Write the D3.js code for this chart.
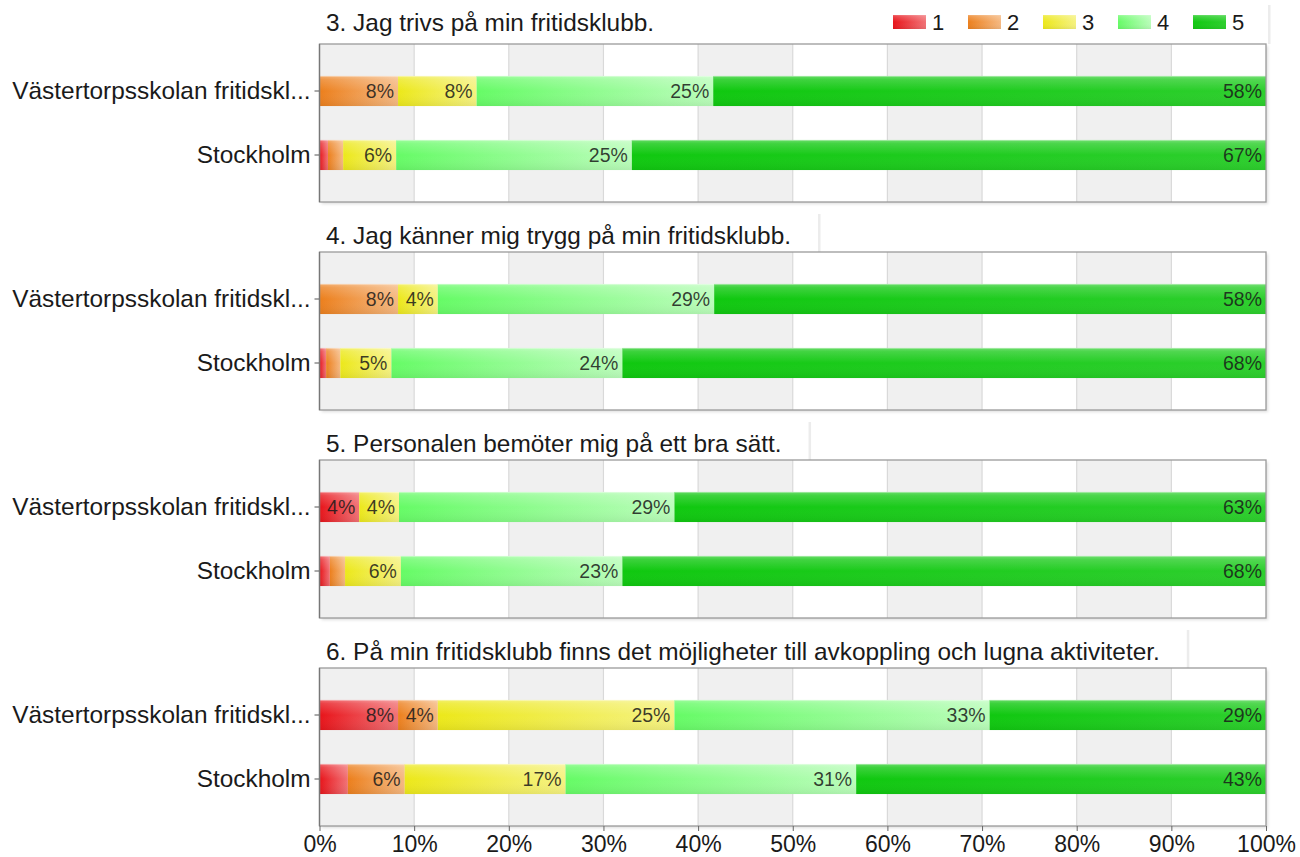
<!DOCTYPE html>
<html>
<head>
<meta charset="utf-8">
<script src="https://cdn.jsdelivr.net/npm/d3@7"></script>
<style>
html,body{margin:0;padding:0;background:#fff;}
svg{display:block;font-family:"Liberation Sans",Arial,sans-serif;}
</style>
</head>
<body>
<svg id="chart" width="1300" height="857"></svg>
<script>
// ---------- data ----------
const categories = ["Västertorpsskolan fritidskl...", "Stockholm"];
const questions = [
  "3. Jag trivs på min fritidsklubb.",
  "4. Jag känner mig trygg på min fritidsklubb.",
  "5. Personalen bemöter mig på ett bra sätt.",
  "6. På min fritidsklubb finns det möjligheter till avkoppling och lugna aktiviteter."
];
const levels = ["1", "2", "3", "4", "5"];
const levelColors = ["#e8141a", "#ec7f1c", "#ece81a", "#66fb66", "#10c810"];
const levelLighten = [0.4, 0.45, 0.45, 0.55, 0.12];
// percentages per question: [Västertorp, Stockholm], each [1,2,3,4,5]
const q3Values = [[0, 8.3, 8.3, 25.0, 58.4], [0.9, 1.6, 5.6, 24.9, 67.0]];
const q4Values = [[0, 8.3, 4.2, 29.2, 58.3], [0.7, 1.5, 5.4, 24.4, 68.0]];
const q5Values = [[4.2, 0, 4.2, 29.1, 62.5], [1.1, 1.6, 5.9, 23.4, 68.0]];
const q6Values = [[8.3, 4.2, 25.0, 33.3, 29.2], [3.0, 6.0, 17.0, 30.7, 43.3]];
const questionValues = [q3Values, q4Values, q5Values, q6Values];
const xTicks = [0, 10, 20, 30, 40, 50, 60, 70, 80, 90, 100];

// ---------- layout ----------
const svg = d3.select("#chart");
const left = 319.5, right = 1266;
const panelH = 158, panelStep = 208, firstTop = 44;
const x = d3.scaleLinear().domain([0, 100]).range([left, right]);

const defs = svg.append("defs");
const sh = defs.append("filter").attr("id", "shadow").attr("x", "-5%").attr("y", "-5%").attr("width", "110%").attr("height", "115%");
sh.append("feDropShadow").attr("dx", 2).attr("dy", 2).attr("stdDeviation", 1.5)
  .attr("flood-color", "#000").attr("flood-opacity", 0.13);

levelColors.forEach((c, i) => {
  const g = defs.append("linearGradient").attr("id", "grad" + i)
    .attr("x1", 0).attr("x2", 1).attr("y1", 0).attr("y2", 0);
  g.append("stop").attr("offset", "0%").attr("stop-color", c);
  g.append("stop").attr("offset", "100%").attr("stop-color", d3.interpolateRgb(c, "#fff")(levelLighten[i]));
});
const gv = defs.append("linearGradient").attr("id", "gloss").attr("x1", 0).attr("x2", 0).attr("y1", 0).attr("y2", 1);
gv.append("stop").attr("offset", "0%").attr("stop-color", "#fff").attr("stop-opacity", 0.35);
gv.append("stop").attr("offset", "12%").attr("stop-color", "#fff").attr("stop-opacity", 0.18);
gv.append("stop").attr("offset", "50%").attr("stop-color", "#fff").attr("stop-opacity", 0.0);
gv.append("stop").attr("offset", "100%").attr("stop-color", "#000").attr("stop-opacity", 0.06);

questions.forEach((q, qi) => {
  const top = firstTop + qi * panelStep;
  const bottom = top + panelH;
  const g = svg.append("g");
  const y = d3.scaleBand().domain(categories).range([top + 15, top + 143]).paddingInner(0.53).paddingOuter(0.265);

  // title box with right shadow
  const titleText = g.append("text").attr("x", 326).attr("y", qi === 0 ? 31 : top - 8)
    .attr("font-size", 24.4).attr("fill", "#1a1a1a").text(q);
  let boxRight, boxTop;
  if (qi === 0) { boxRight = 1268; boxTop = 5; }
  else { boxRight = 326 + titleText.node().getComputedTextLength() + 27; boxTop = top - 38; }
  g.insert("rect", "text").attr("x", boxRight).attr("y", boxTop).attr("width", 2.5).attr("height", top - boxTop)
    .attr("fill", "#ececec");

  // panel background with shadow
  g.append("rect").attr("x", left).attr("y", top).attr("width", right - left).attr("height", panelH)
    .attr("fill", "#fff").attr("filter", "url(#shadow)");
  // alternating bands
  g.selectAll("rect.band").data(xTicks.slice(0, -1).filter((t, i) => i % 2 === 0)).join("rect")
    .attr("class", "band").attr("x", d => x(d)).attr("y", top)
    .attr("width", d => x(d + 10) - x(d)).attr("height", panelH).attr("fill", "#f0f0f0");
  // gridlines
  g.selectAll("line.grid").data(xTicks.slice(1, -1)).join("line").attr("class", "grid")
    .attr("x1", d => x(d)).attr("x2", d => x(d)).attr("y1", top).attr("y2", bottom)
    .attr("stroke", "#d9d9d9").attr("stroke-width", 1.2);

  // bars
  const vals = questionValues[qi];
  categories.forEach((cat, ci) => {
    const row = vals[ci];
    let acc = 0;
    const segs = row.map((v, li) => { const s = { x0: acc, x1: acc + v, v, li }; acc += v; return s; });
    const bg = g.append("g");
    segs.filter(s => s.v > 0).forEach(s => {
      const x0 = x(s.x0), x1 = Math.min(x(s.x1), right);
      bg.append("rect").attr("x", x0).attr("y", y(cat)).attr("width", Math.max(0, x1 - x0)).attr("height", y.bandwidth())
        .attr("fill", `url(#grad${s.li})`);
      bg.append("rect").attr("x", x0).attr("y", y(cat)).attr("width", Math.max(0, x1 - x0)).attr("height", y.bandwidth())
        .attr("fill", "url(#gloss)");
      bg.append("line").attr("x1", x0).attr("x2", x1).attr("y1", y(cat) + 0.5).attr("y2", y(cat) + 0.5)
        .attr("stroke", "#fff").attr("stroke-opacity", 0.35);
    });
    bg.selectAll("text").data(segs.filter(s => s.v >= 4)).join("text")
      .attr("x", s => Math.min(x(s.x1), right) - 4)
      .attr("y", y(cat) + y.bandwidth() / 2).attr("dy", "0.36em")
      .attr("text-anchor", "end").attr("font-size", 19.5).attr("fill", "#1a1a1a").attr("fill-opacity", 0.85)
      .text(s => Math.round(s.v) + "%");
  });

  // frame
  g.append("rect").attr("x", left).attr("y", top).attr("width", right - left).attr("height", panelH)
    .attr("fill", "none").attr("stroke", "#9a9a9a").attr("stroke-width", 1.3);
  // left axis
  const ya = g.append("g").attr("transform", `translate(${left},0)`)
    .call(d3.axisLeft(y).tickSizeInner(5).tickSizeOuter(0).tickPadding(4));
  ya.select(".domain").remove();
  g.append("line").attr("x1", left).attr("x2", left).attr("y1", top).attr("y2", bottom)
    .attr("stroke", "#777").attr("stroke-width", 1.3);
  ya.selectAll(".tick line").attr("stroke", "#555");
  ya.selectAll(".tick text").attr("font-size", 24.4).attr("fill", "#1a1a1a")
    .attr("font-family", "Liberation Sans, Arial, sans-serif");

  if (qi === questions.length - 1) {
    const xa = g.append("g").attr("transform", `translate(0,${bottom})`)
      .call(d3.axisBottom(x).tickValues(xTicks).tickFormat(d => d + "%").tickSizeInner(5).tickSizeOuter(0).tickPadding(5));
    xa.select(".domain").remove();
    xa.selectAll(".tick line").attr("stroke", "#666");
    xa.selectAll(".tick text").attr("font-size", 23).attr("fill", "#1a1a1a")
      .attr("font-family", "Liberation Sans, Arial, sans-serif");
  }
});

// legend
const lg = svg.append("g");
const lx = d3.scaleLinear().domain([0, 1]).range([893, 968]);
levels.forEach((l, i) => {
  lg.append("rect").attr("x", lx(i)).attr("y", 15).attr("width", 33).attr("height", 14).attr("fill", `url(#grad${i})`);
  lg.append("rect").attr("x", lx(i)).attr("y", 15).attr("width", 33).attr("height", 14).attr("fill", "url(#gloss)");
  lg.append("text").attr("x", lx(i) + 39).attr("y", 30).attr("font-size", 22).attr("fill", "#1a1a1a").text(l);
});
</script>
</body>
</html>
